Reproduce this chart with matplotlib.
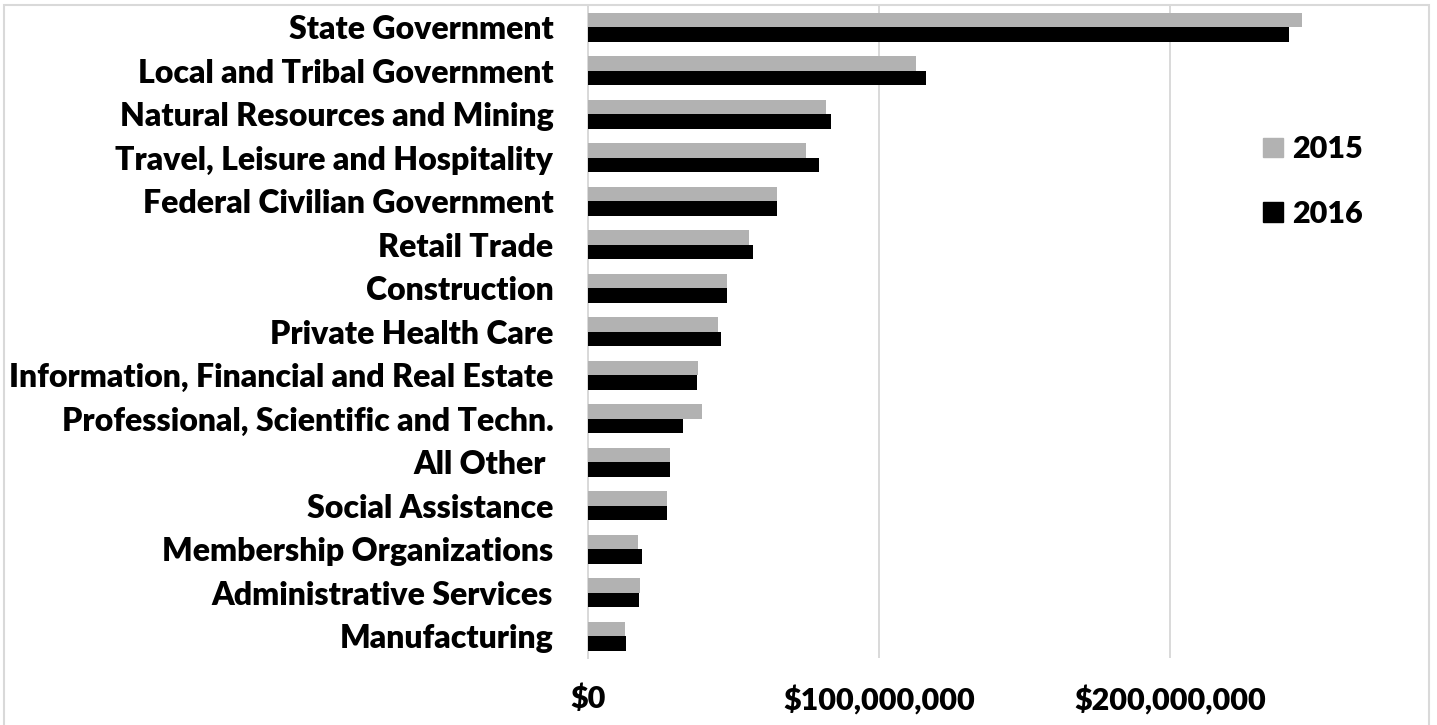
import matplotlib
matplotlib.use("Agg")
import matplotlib.pyplot as plt
import numpy as np
from matplotlib.patches import Rectangle, Patch
from matplotlib.ticker import FuncFormatter

categories = [
    "State Government",
    "Local and Tribal Government",
    "Natural Resources and Mining",
    "Travel, Leisure and Hospitality",
    "Federal Civilian Government",
    "Retail Trade",
    "Construction",
    "Private Health Care",
    "Information, Financial and Real Estate",
    "Professional, Scientific and Techn.",
    "All Other ",
    "Social Assistance",
    "Membership Organizations",
    "Administrative Services",
    "Manufacturing",
]

# values in dollars
values_2015 = [245.2e6, 112.6e6, 81.9e6, 74.8e6, 64.8e6, 55.2e6, 47.6e6, 44.5e6,
               37.9e6, 39.0e6, 28.3e6, 27.0e6, 17.2e6, 17.9e6, 12.8e6]
values_2016 = [240.7e6, 115.9e6, 83.3e6, 79.2e6, 65.0e6, 56.8e6, 47.6e6, 45.7e6,
               37.3e6, 32.7e6, 28.1e6, 27.2e6, 18.6e6, 17.6e6, 13.1e6]

x_ticks = [0, 100e6, 200e6]

plt.rcParams['font.family'] = ['Lato', 'DejaVu Sans']
W = 'heavy'

fig = plt.figure(figsize=(14.37, 7.25), dpi=100)
ax = fig.add_axes([588 / 1437, 1 - 658 / 725, 728 / 1437, 652.75 / 725])

y = np.arange(len(categories))
h = 1 / 3
ax.barh(y - h / 2, values_2015, height=h, color='#b2b2b2', zorder=3, label='2015')
ax.barh(y + h / 2, values_2016, height=h, color='black', zorder=3, label='2016')

ax.set_ylim(len(categories) - 0.5, -0.5)
ax.set_xlim(0, 250e6)
ax.set_yticks(y)
ax.set_yticklabels(categories, fontsize=23, fontweight=W)
ax.set_xticks(x_ticks)
ax.xaxis.set_major_formatter(FuncFormatter(lambda v, p: "${:,.0f}".format(v)))
ax.tick_params(axis='y', length=0, pad=25)
ax.tick_params(axis='x', length=0, pad=19, labelsize=22)
for lbl in ax.get_xticklabels():
    lbl.set_fontweight(W)

ax.grid(axis='x', color='#d9d9d9', linewidth=1.4, zorder=0)
for s in ['top', 'right', 'bottom']:
    ax.spines[s].set_visible(False)
ax.spines['left'].set_color('#d9d9d9')
ax.spines['left'].set_linewidth(1.4)

handles = [Patch(color='#b2b2b2'), Patch(color='black')]
fig.legend(handles, ['2015', '2016'], loc='center left',
           bbox_to_anchor=(1263 / 1437, 1 - 181.5 / 725), frameon=False,
           prop={'size': 22, 'weight': W}, handlelength=0.65, handleheight=0.62,
           handletextpad=0.3, labelspacing=1.2, borderpad=0, borderaxespad=0)

# chart border
fig.patches.append(Rectangle((4 / 1437, -0.1), 1424.5 / 1437, 1.1 - 5 / 725,
                             transform=fig.transFigure, fill=False,
                             edgecolor='#d9d9d9', linewidth=1.5))

fig.savefig("out.png", dpi=100)
